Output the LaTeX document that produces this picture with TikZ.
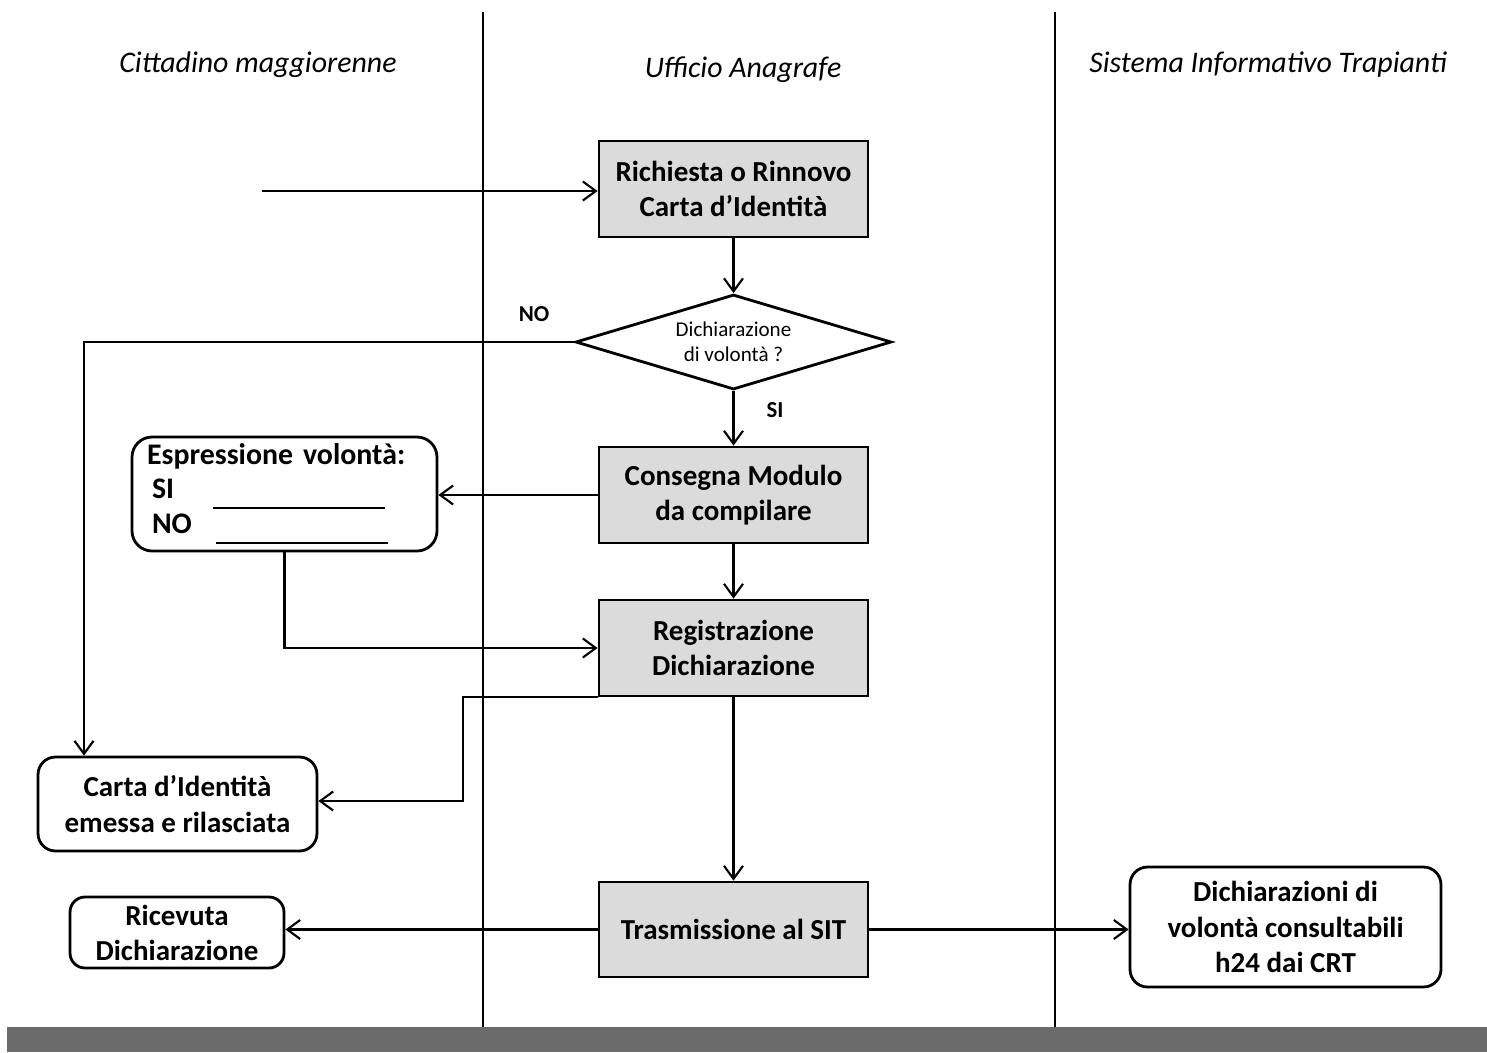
\documentclass[tikz,border=0pt]{standalone}
\usepackage{fontspec}
\setmainfont{Carlito}
\usetikzlibrary{shapes.geometric}
\usetikzlibrary{positioning}
\usetikzlibrary{arrows.meta}
\definecolor{step-gray}{gray}{0.86}
\definecolor{bar-gray}{gray}{0.42}
\tikzset{
  lane-title/.style={font=\fontsize{17}{20}\selectfont\itshape},
  step-box/.style={draw, line width=1.6pt, fill=step-gray, minimum width=5.38cm, minimum height=1.92cm, align=center, font=\fontsize{16.5}{20}\selectfont\bfseries},
  out-box/.style={draw, line width=1.6pt, rounded corners=0.35cm, fill=white, align=center, font=\fontsize{16.5}{20}\selectfont\bfseries},
  choice-box/.style={draw, shape=diamond, line width=1.6pt, fill=white, aspect=3.3, inner sep=0pt, minimum width=6.32cm, minimum height=1.9cm, align=center, font=\fontsize{12}{14}\selectfont},
  choice-label/.style={font=\fontsize{13}{15}\selectfont\bfseries},
  flow/.style={line width=1.2pt, ->},
  lane-line/.style={line width=0.6pt},
}

\begin{document}
\begin{tikzpicture}[x=0.02cm, y=-0.02cm, >={Straight Barb[length=2.6mm,width=3.8mm]}]
\useasboundingbox (0,0) rectangle (1487,1052);
% lanes
\draw[lane-line] (483,12) -- (483,1027);
\draw[lane-line] (1055,12) -- (1055,1027);
\fill[bar-gray] (7,1027) rectangle (1487,1052);
\node[lane-title] at (258, 65) (cittadino) {Cittadino maggiorenne};
\node[lane-title] at (743, 70) (ufficio) {Ufficio Anagrafe};
\node[lane-title] at (1268, 65) (sistema) {Sistema Informativo Trapianti};
% main flow
\node[step-box] at (733.5, 189) (richiesta) {Richiesta o Rinnovo\\Carta d'Identità};
\node[choice-box] at (733.5, 342) (volonta) {Dichiarazione\\di volontà ?};
\node[step-box] at (733.5, 495) (consegna) {Consegna Modulo\\da compilare};
\node[step-box] at (733.5, 648) (registrazione) {Registrazione\\Dichiarazione};
\node[step-box, minimum height=1.9cm] at (733.5, 929.5) (trasmissione) {Trasmissione al SIT};
\node[choice-label] at (534, 314) (no) {NO};
\node[choice-label] at (775, 410) (si) {SI};
% outputs
\node[out-box, text width=5.3cm, align=left, inner xsep=0.4cm, inner ysep=0.12cm, minimum height=2.28cm, rounded corners=0.4cm, font=\fontsize{17}{20}\selectfont\bfseries] at (284.5, 494) (espressione)
  {\hspace*{-0.1cm}Espressione volontà:\\[-1pt]%
   \makebox[1.22cm][l]{SI}\rule[-6pt]{3.44cm}{1pt}\\%
   \makebox[1.28cm][l]{NO}\rule[-6pt]{3.44cm}{1pt}};
\node[out-box, minimum width=5.58cm, minimum height=1.88cm] at (177.5, 804) (carta) {Carta d'Identità\\emessa e rilasciata};
\node[out-box, minimum width=4.28cm, minimum height=1.42cm, rounded corners=0.3cm] at (177, 932.5) (ricevuta) {Ricevuta\\Dichiarazione};
\node[out-box, minimum width=6.22cm, minimum height=2.4cm] at (1285.5, 927) (consultabili) {Dichiarazioni di\\volontà consultabili\\h24 dai CRT};
% connectors
\coordinate (entry) at (262, 191);
\coordinate (no-bend) at (84, 342);
\coordinate (ci-bend) at (463, 801);
\draw[flow] (entry) -- (entry -| richiesta.west);
\draw[flow] (richiesta) -- (volonta);
\draw[flow] (volonta) -- (consegna);
\draw[flow] (consegna) -- (registrazione);
\draw[flow] (registrazione) -- (trasmissione);
\draw[flow] (volonta.west) -- (no-bend) -- (no-bend |- carta.north);
\draw[flow] (consegna.west) -- (consegna.west -| espressione.east);
\draw[flow] (espressione.south) |- (registrazione.west);
\draw[flow] (registrazione.south west) -| (ci-bend) -- (ci-bend -| carta.east);
\draw[flow] (trasmissione.west) -- (trasmissione.west -| ricevuta.east);
\draw[flow] (trasmissione.east) -- (trasmissione.east -| consultabili.west);
\end{tikzpicture}
\end{document}
